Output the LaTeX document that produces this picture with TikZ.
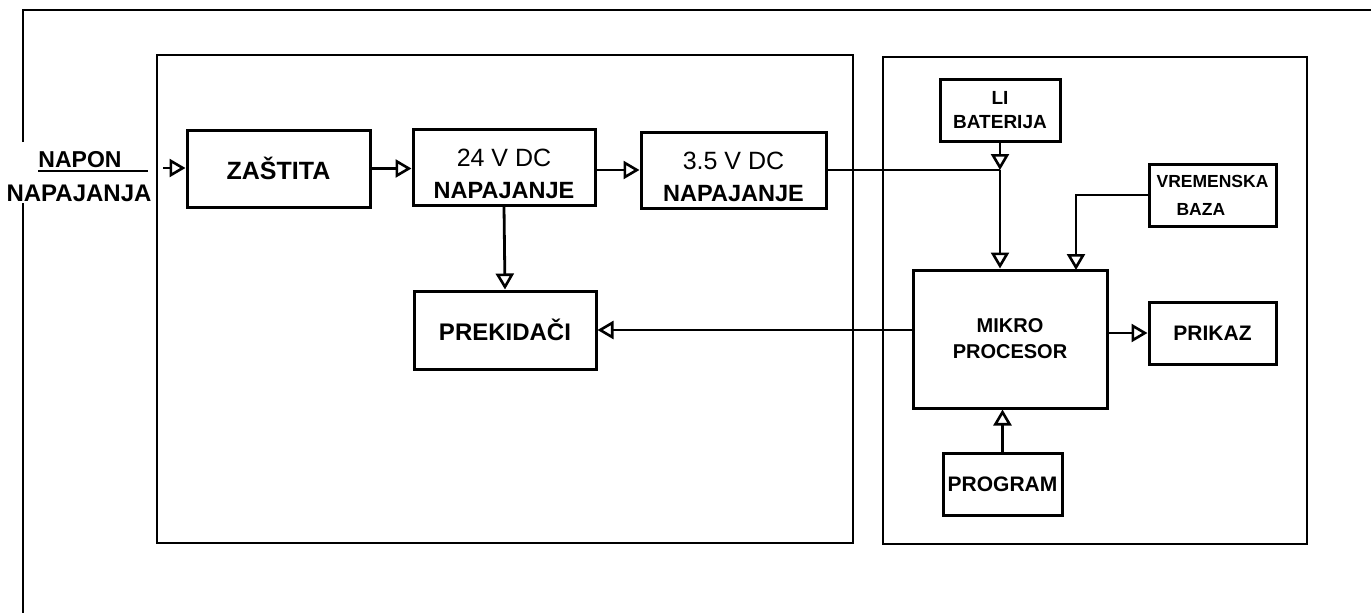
\documentclass[tikz,border=0pt]{standalone}
\usepackage{fontspec}
\setmainfont{Liberation Sans}
\usetikzlibrary{arrows.meta}
\begin{document}
\begin{tikzpicture}[x=1pt,y=-1pt,
  blk/.style={draw, line width=3pt, inner sep=0pt, align=center, font=\bfseries},
  cont/.style={draw, line width=2.4pt, inner sep=0pt},
  frm/.style={line width=2.4pt},
  wire/.style={line width=2.8pt},
  conn/.style={line width=2.8pt, -{Triangle[open, length=16pt, width=18pt, line width=2.6pt]}},
  lbl/.style={inner sep=0pt, font=\bfseries}
]
\useasboundingbox (0,0) rectangle (1371,613);
\fill[white] (0,0) rectangle (1371,613);

% outer frame (cut off)
\draw[frm] (23,142) -- (23,10) -- (1371,10);
\draw[frm] (23,203) -- (23,613);

% containers
\node[cont, minimum width=696pt, minimum height=488pt] (leftc) at (505,299) {};
\node[cont, minimum width=424pt, minimum height=487pt] (rightc) at (1095,300.5) {};

% input label
\node[lbl, font=\bfseries\fontsize{23}{28}\selectfont] (napon) at (80,160) {NAPON};
\node[lbl, font=\bfseries\fontsize{24}{28}\selectfont] (napaj) at (79,193) {NAPAJANJA};
\coordinate (ul) at (148,171);
\draw[line width=2pt] (napon.south west |- ul) -- (ul);
\coordinate (in) at (163,168);

% blocks
\node[blk, minimum width=183pt, minimum height=77pt, font=\bfseries\fontsize{25}{30}\selectfont] (zast) at (278.5,168.5) {ZAŠTITA};
\node[blk, minimum width=182pt, minimum height=76pt, font=\bfseries\fontsize{23.5}{32}\selectfont] (v24) at (504,167)
  {{\mdseries\fontsize{25}{32}\selectfont\rule{0pt}{32pt}24 V DC}\\NAPAJANJE};
\node[blk, minimum width=185pt, minimum height=76pt, font=\bfseries\fontsize{23.5}{32}\selectfont] (v35) at (733.5,170)
  {{\mdseries\fontsize{25}{32}\selectfont\rule{0pt}{32pt}3.5 V DC}\\NAPAJANJE};
\node[blk, minimum width=182pt, minimum height=78pt, font=\bfseries\fontsize{24}{28}\selectfont] (prek) at (505,330) {PREKIDAČI};
\node[blk, minimum width=120pt, minimum height=62pt, font=\bfseries\fontsize{19}{24}\selectfont] (bat) at (1000,110) {LI\\BATERIJA};
\node[blk, minimum width=127pt, minimum height=62pt, align=left, font=\bfseries\fontsize{17.5}{28}\selectfont] (vrem) at (1212.5,195) {VREMENSKA\\\hspace*{20pt}BAZA};
\node[blk, minimum width=194pt, minimum height=138pt, font=\bfseries\fontsize{20}{26}\selectfont] (mikro) at (1010,339) {MIKRO\\PROCESOR};
\node[blk, minimum width=127pt, minimum height=62pt, font=\bfseries\fontsize{21}{26}\selectfont] (prikaz) at (1212.5,333) {PRIKAZ};
\node[blk, minimum width=119pt, minimum height=62pt, font=\bfseries\fontsize{21}{26}\selectfont] (prog) at (1002.5,484) {PROGRAM};

% connectors
\draw[conn] (in) -- (in -| zast.west);
\draw[conn] (zast.east) -- (zast.east -| v24.west);
\draw[conn] (v24.east |- v35.west) -- (v35.west);
\draw[conn] (v24.south) -- (prek.north);

\coordinate (j) at (bat.south |- v35.east);
\draw[wire] (v35.east) -- (j);
\draw[conn] (bat.south) -- (j);
\draw[conn] (j) -- (j |- mikro.north);

\coordinate (vm) at (1076,270);
\draw[conn] (vrem.west) -| (vm);

\draw[conn] (mikro.west |- prek.east) -- (prek.east);
\draw[conn] (mikro.east |- prikaz.west) -- (prikaz.west);
\draw[conn] (prog.north) -- (prog.north |- mikro.south);
\end{tikzpicture}
\end{document}
